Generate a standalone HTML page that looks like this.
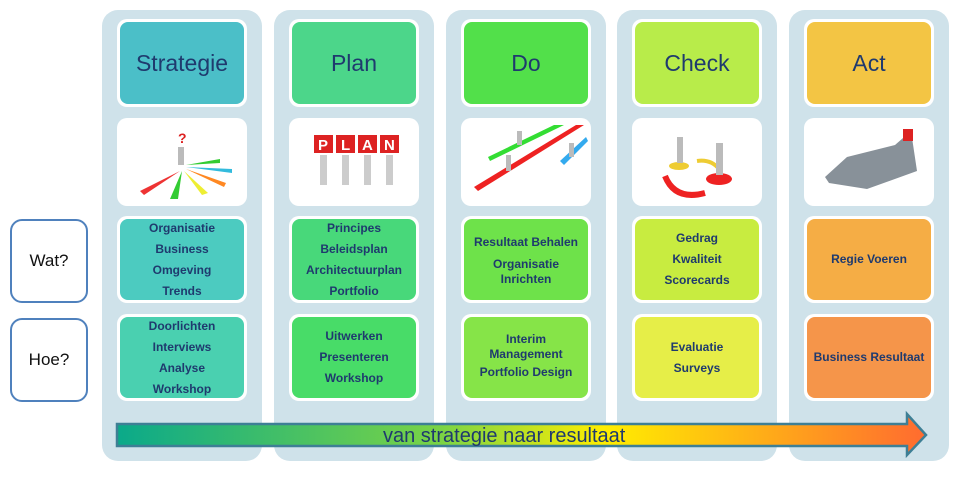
<!DOCTYPE html>
<html><head><meta charset="utf-8"><style>
body{margin:0;width:960px;height:477px;background:#fff;position:relative;overflow:hidden;font-family:"Liberation Sans",sans-serif}
.col{position:absolute;top:10px;width:160px;height:451px;background:#cfe2ea;border-radius:16px}
.card{position:absolute;left:15px;width:124px;background:#fff;border-radius:10px;padding:3px}
.card>div{width:124px;border-radius:8px;display:flex;flex-direction:column;align-items:center;justify-content:center;text-align:center;color:#1f3a6e;font-weight:bold;font-size:12px;line-height:21px}
.h{top:9px}.h>div{height:82px;font-weight:normal;font-size:23px}
.im{top:108px;height:82px}
.w{top:206px}.w>div{height:81px}
.o{top:304px}.o>div{height:81px}
.lbl{position:absolute;left:10px;width:74px;height:80px;border:2.5px solid #4f81bd;border-radius:12px;background:#fff;display:flex;align-items:center;justify-content:center;font-size:17px;color:#111}
</style></head><body>
<div class="lbl" style="top:219px">Wat?</div>
<div class="lbl" style="top:318px">Hoe?</div>

<div class="col" style="left:102px">
<div class="card h"><div style="background:#4bbfc8">Strategie</div></div>
<div class="card im"><svg width="124" height="82"><text x="58" y="22" fill="#d22" font-size="14" font-weight="bold">?</text><rect x="58" y="26" width="6" height="18" fill="#bbb"/><polygon points="60,50 20,70 24,74" fill="#e33"/><polygon points="62,50 50,78 58,78" fill="#3c3"/><polygon points="64,50 82,74 88,72" fill="#ee3"/><polygon points="66,48 104,66 106,62" fill="#f82"/><polygon points="66,46 112,52 112,48" fill="#3bd"/><polygon points="66,44 100,38 100,42" fill="#3c3"/></svg></div>
<div class="card w"><div style="background:#4ccbc0">Organisatie<br>Business<br>Omgeving<br>Trends</div></div>
<div class="card o"><div style="background:#4ad0b0">Doorlichten<br>Interviews<br>Analyse<br>Workshop</div></div>
</div>

<div class="col" style="left:274px">
<div class="card h"><div style="background:#4cd68a">Plan</div></div>
<div class="card im"><svg width="124" height="82"><g font-weight="bold" font-size="15" fill="#fff"><rect x="22" y="14" width="19" height="18" fill="#d22"/><text x="26" y="29">P</text><rect x="44" y="14" width="19" height="18" fill="#d22"/><text x="49" y="29">L</text><rect x="66" y="14" width="19" height="18" fill="#d22"/><text x="70" y="29">A</text><rect x="88" y="14" width="19" height="18" fill="#d22"/><text x="92" y="29">N</text></g><g fill="#ccc"><rect x="28" y="34" width="7" height="30"/><rect x="50" y="34" width="7" height="30"/><rect x="72" y="34" width="7" height="30"/><rect x="94" y="34" width="7" height="30"/></g></svg></div>
<div class="card w"><div style="background:#48d87a">Principes<br>Beleidsplan<br>Architectuurplan<br>Portfolio</div></div>
<div class="card o"><div style="background:#48dc68">Uitwerken<br>Presenteren<br>Workshop</div></div>
</div>

<div class="col" style="left:446px">
<div class="card h"><div style="background:#52e04a">Do</div></div>
<div class="card im"><svg width="124" height="82"><polygon points="120,4 14,70 10,66 112,4" fill="#e22"/><polygon points="100,4 26,40 24,36 90,4" fill="#3d3"/><polygon points="124,20 100,44 96,40 122,16" fill="#3ae"/><rect x="42" y="34" width="5" height="16" fill="#bbb"/><rect x="53" y="10" width="5" height="14" fill="#bbb"/><rect x="105" y="22" width="5" height="14" fill="#bbb"/></svg></div>
<div class="card w"><div style="background:#6ee24a">Resultaat Behalen<div style="line-height:15px;margin-top:4px">Organisatie<br>Inrichten</div></div></div>
<div class="card o"><div style="background:#86e448"><div style="line-height:15px">Interim<br>Management</div>Portfolio Design</div></div>
</div>

<div class="col" style="left:617px">
<div class="card h"><div style="background:#b8ec4a">Check</div></div>
<div class="card im"><svg width="124" height="82"><ellipse cx="44" cy="45" rx="10" ry="4" fill="#ec3"/><ellipse cx="84" cy="58" rx="13" ry="6" fill="#e22"/><path d="M30 55 Q40 80 70 72" stroke="#e22" stroke-width="6" fill="none"/><path d="M62 40 Q76 38 84 48" stroke="#ec3" stroke-width="4" fill="none"/><rect x="42" y="16" width="6" height="26" fill="#bbb"/><rect x="81" y="22" width="7" height="32" fill="#bbb"/></svg></div>
<div class="card w"><div style="background:#c8ec40">Gedrag<br>Kwaliteit<br>Scorecards</div></div>
<div class="card o"><div style="background:#e6ee48">Evaluatie<br>Surveys</div></div>
</div>

<div class="col" style="left:789px">
<div class="card h"><div style="background:#f3c544">Act</div></div>
<div class="card im"><svg width="124" height="82"><polygon points="18,56 40,36 88,24 104,10 110,50 60,68 22,62" fill="#889199"/><rect x="96" y="8" width="10" height="12" fill="#d22"/></svg></div>
<div class="card w"><div style="background:#f5ad45">Regie Voeren</div></div>
<div class="card o"><div style="background:#f5954a">Business Resultaat</div></div>
</div>

<svg style="position:absolute;left:0;top:0" width="960" height="477">
<defs><linearGradient id="g" x1="116" x2="928" gradientUnits="userSpaceOnUse"><stop offset="0" stop-color="#0aa98a"/><stop offset="0.4" stop-color="#7ad445"/><stop offset="0.6" stop-color="#ffee00"/><stop offset="1" stop-color="#ff6a30"/></linearGradient></defs>
<polygon points="117,424 907,424 907,414 926,435 907,455 907,446 117,446" fill="url(#g)" stroke="#3e7f95" stroke-width="2.5"/>
<text x="383" y="442" font-size="20" fill="#1f3a6e" font-family="Liberation Sans,sans-serif">van strategie naar resultaat</text>
</svg>
</body></html>
